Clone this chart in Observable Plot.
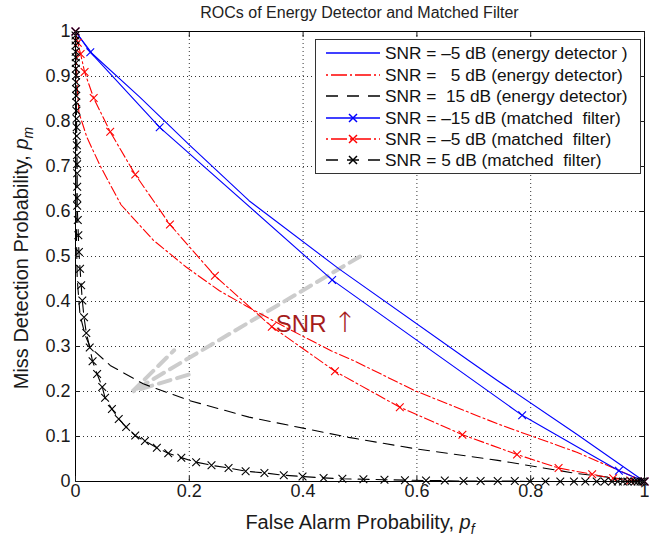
<!DOCTYPE html>
<html><head><meta charset="utf-8">
<script src="https://cdn.jsdelivr.net/npm/d3@7"></script>
<script src="https://cdn.jsdelivr.net/npm/@observablehq/plot@0.6"></script>
<style>
body{margin:0;background:#fff;font-family:"Liberation Sans",Arial,Helvetica,sans-serif;}
#wrap{position:relative;width:649px;height:542px;overflow:hidden;background:#fff;}
#title{position:absolute;left:75px;width:569px;top:3px;text-align:center;font-size:16px;color:#222;line-height:20px;}
#chart{position:absolute;left:0;top:26px;}
#legend{position:absolute;left:315px;top:39px;width:324px;height:133px;border:1px solid #333;background:#fff;}
.row{position:absolute;left:0;height:21px;width:324px;}
.row svg{position:absolute;left:10px;top:3px;overflow:visible;}
.row span{position:absolute;left:69px;top:0;font-size:17.3px;line-height:21px;white-space:pre;color:#111;}
</style></head>
<body>
<div id="wrap">
  <div id="title">ROCs of Energy Detector and Matched Filter</div>
  <div id="chart"></div>
  <div id="legend"></div>
</div>
<script>
// ---- data ----
const xTicks = [0, 0.2, 0.4, 0.6, 0.8, 1];
const yTicks = [0, 0.1, 0.2, 0.3, 0.4, 0.5, 0.6, 0.7, 0.8, 0.9, 1];

const seriesLabels = [
  "SNR = \u20135 dB (energy detector )",
  "SNR =   5 dB (energy detector)",
  "SNR =  15 dB (energy detector)",
  "SNR = \u201315 dB (matched  filter)",
  "SNR = \u20135 dB (matched  filter)",
  "SNR = 5 dB (matched  filter)"
];

// energy detector, SNR = -5 dB
const energyM5 = [[0,1],[0.03,0.95],[0.113,0.854],[0.2,0.748],[0.305,0.624],[0.4625,0.473],
  [0.691,0.269],[0.742,0.224],[0.881,0.105],[1,0]];
// energy detector, SNR = 5 dB
const energy5 = [[0,1],[0.001,0.95],[0.003,0.88],[0.006,0.82],[0.02,0.765],[0.044,0.70],[0.08,0.615],
  [0.137,0.536],[0.195,0.476],[0.253,0.424],[0.30,0.39],[0.37,0.342],[0.45,0.29],[0.49,0.268],
  [0.596,0.202],[0.742,0.128],[0.881,0.065],[1,0]];
// energy detector, SNR = 15 dB
const energy15 = [[0,1],[0.0005,0.8],[0.001,0.6],[0.003,0.45],[0.008,0.37],[0.017,0.325],[0.026,0.298],
  [0.061,0.258],[0.119,0.217],[0.2,0.18],[0.305,0.143],[0.48,0.098],[0.596,0.073],[0.742,0.047],
  [0.88,0.018],[1,0]];
// matched filter, SNR = -15 dB
const matchedM15 = [[0,1],[0.026,0.954],[0.148,0.787],[0.451,0.448],[0.785,0.147],[0.955,0.024],[1,0]];
// matched filter, SNR = -5 dB
const matchedM5 = [[0,1],[0.004,0.975],[0.009,0.95],[0.016,0.91],[0.032,0.852],[0.061,0.777],[0.105,0.682],
  [0.166,0.571],[0.245,0.457],[0.345,0.344],[0.456,0.245],[0.570,0.165],[0.680,0.104],[0.776,0.060],
  [0.849,0.030],[0.908,0.016],[0.945,0.007],[0.975,0.002],[1,0]];
// matched filter, SNR = 5 dB
const matched5 = [[0,1],[0,0.991],[0.0001,0.98],[0.0002,0.969],[0.0003,0.955],[0.0004,0.943],[0.0005,0.93],
  [0.0006,0.917],[0.0008,0.902],[0.001,0.887],[0.001,0.872],[0.0012,0.857],[0.0014,0.842],[0.0016,0.824],
  [0.0018,0.806],[0.002,0.787],[0.0022,0.768],[0.0024,0.747],[0.0026,0.725],[0.0028,0.705],[0.003,0.685],
  [0.003,0.655],[0.003,0.63],[0.003,0.613],[0.004,0.581],[0.005,0.547],[0.006,0.51],[0.008,0.473],
  [0.010,0.436],[0.012,0.402],[0.015,0.365],[0.019,0.33],[0.025,0.298],[0.030,0.267],[0.038,0.239],
  [0.047,0.21],[0.052,0.186],[0.064,0.161],[0.076,0.139],[0.089,0.121],[0.105,0.102],[0.122,0.09],
  [0.143,0.075],[0.163,0.063],[0.186,0.053],[0.212,0.043],[0.239,0.036],[0.269,0.03],[0.299,0.023],
  [0.332,0.019],[0.366,0.014],[0.399,0.011],[0.436,0.008],[0.469,0.006],[0.506,0.005],[0.543,0.004],
  [0.579,0.003],[0.616,0.002],[0.649,0.002],[0.682,0.001],[0.712,0.001],[0.742,0.001],[0.772,0.001],
  [0.799,0],[0.826,0],[0.852,0],[0.876,0],[0.896,0],[0.916,0],[0.93,0],[0.943,0],[0.953,0],[0.962,0],
  [0.97,0],[0.977,0],[0.983,0],[0.988,0],[0.993,0],[0.997,0],[1,0]];

const arrowAnno = [{x1: 0.5, y1: 0.5, x2: 0.1, y2: 0.2}];
const snrAnno = [{x: 0.352, y: 0.349, text: "SNR \u2191"}];

// ---- styles ----
const seriesData = [energyM5, energy5, energy15, matchedM15, matchedM5, matched5];
const seriesStyle = [
  {stroke: "#0000ff", dash: null, marker: false},
  {stroke: "#ff0000", dash: "10,3,2,3", marker: false},
  {stroke: "#000000", dash: "11,7", marker: false},
  {stroke: "#0000ff", dash: null, marker: true},
  {stroke: "#ff0000", dash: "10,3,2,3", marker: true},
  {stroke: "#000000", dash: "11,7", marker: true}
];
const fmt = d3.format("~g");
const blank = () => "";

const marks = [
  Plot.ruleX(xTicks.filter(t => t > 0 && t < 1), {stroke: "#333", strokeOpacity: 1, strokeWidth: 1, strokeDasharray: "1,3"}),
  Plot.ruleY(yTicks.filter(t => t > 0 && t < 1), {stroke: "#333", strokeOpacity: 1, strokeWidth: 1, strokeDasharray: "1,3"}),
  Plot.arrow(arrowAnno, {x1: "x1", y1: "y1", x2: "x2", y2: "y2", stroke: "#cccccc", strokeWidth: 4,
    strokeDasharray: "12,7", headLength: 22, headAngle: 28})
];
seriesData.forEach((data, i) => {
  const st = seriesStyle[i];
  marks.push(Plot.line(data, {x: d => d[0], y: d => d[1], stroke: st.stroke, strokeWidth: 1.1,
    strokeDasharray: st.dash || undefined}));
  if (st.marker) marks.push(Plot.dot(data, {x: d => d[0], y: d => d[1], symbol: "times", r: 3.6,
    stroke: st.stroke, strokeWidth: 1.1}));
});
marks.push(
  Plot.text(snrAnno, {x: "x", y: "y", text: "text", textAnchor: "start", fontSize: 24, fill: "#a51c1c"}),
  Plot.frame({stroke: "#000", strokeWidth: 1}),
  Plot.axisX({anchor: "bottom", ticks: xTicks, tickSize: 0, tickPadding: 3, tickFormat: fmt, fontSize: 18, label: null}),
  Plot.axisX({anchor: "bottom", ticks: xTicks, tickSize: 5, dy: -5, tickFormat: blank, label: null}),
  Plot.axisX({anchor: "top", ticks: xTicks, tickSize: 5, dy: 5, tickFormat: blank, label: null}),
  Plot.axisY({anchor: "left", ticks: yTicks, tickSize: 0, tickPadding: 5, tickFormat: fmt, fontSize: 18, label: null}),
  Plot.axisY({anchor: "left", ticks: yTicks, tickSize: 5, dx: 5, tickFormat: blank, label: null}),
  Plot.axisY({anchor: "right", ticks: yTicks, tickSize: 5, dx: -5, tickFormat: blank, label: null})
);

const svg = Plot.plot({
  width: 649, height: 516,
  marginLeft: 75, marginRight: 5, marginTop: 5, marginBottom: 61,
  x: {domain: [0, 1]},
  y: {domain: [0, 1]},
  style: {fontFamily: "'Liberation Sans', Arial, Helvetica, sans-serif", overflow: "visible", background: "white", color: "#1a1a1a"},
  marks
});
document.getElementById("chart").appendChild(svg);

const s = d3.select(svg);
// larger, thin arrow glyph in the SNR annotation
s.selectAll("text").filter(function() { return this.textContent === "SNR \u2191"; }).each(function() {
  const t = d3.select(this);
  t.text(null);
  t.append("tspan").text("SNR ");
  t.append("tspan").attr("font-family", "DejaVu Sans").attr("font-size", 28).attr("font-weight", 200).text("\u2191");
});

// axis titles with italic subscripts
const xl = s.append("text").attr("x", 360).attr("y", 503).attr("text-anchor", "middle")
  .attr("font-size", 20).attr("fill", "#1a1a1a");
xl.append("tspan").text("False Alarm Probability, ");
xl.append("tspan").attr("font-style", "italic").text("p");
xl.append("tspan").attr("font-style", "italic").attr("font-size", 14).attr("dy", 5).text("f");

const yl = s.append("text").attr("transform", "translate(28,232) rotate(-90)").attr("text-anchor", "middle")
  .attr("font-size", 20).attr("fill", "#1a1a1a");
yl.append("tspan").text("Miss Detection Probability, ");
yl.append("tspan").attr("font-style", "italic").text("p");
yl.append("tspan").attr("font-style", "italic").attr("font-size", 14).attr("dy", 5).text("m");

// legend
const legend = d3.select("#legend");
seriesLabels.forEach((lab, i) => {
  const st = seriesStyle[i];
  const row = legend.append("div").attr("class", "row").style("top", (3.3 + i * 21.4) + "px");
  const sv = row.append("svg").attr("width", 54).attr("height", 14);
  const legDash = st.dash ? (st.stroke === "#000000" ? "12,9" : "2,3,16,3") : null;
  sv.append("line").attr("x1", 0).attr("x2", 54).attr("y1", 7).attr("y2", 7)
    .attr("stroke", st.stroke).attr("stroke-width", 1.3).attr("stroke-dasharray", legDash);
  if (st.marker) {
    sv.append("path").attr("d", "M23,3L31,11M23,11L31,3").attr("stroke", st.stroke).attr("stroke-width", 1.5);
  }
  row.append("span").text(lab);
});
</script>
</body></html>
